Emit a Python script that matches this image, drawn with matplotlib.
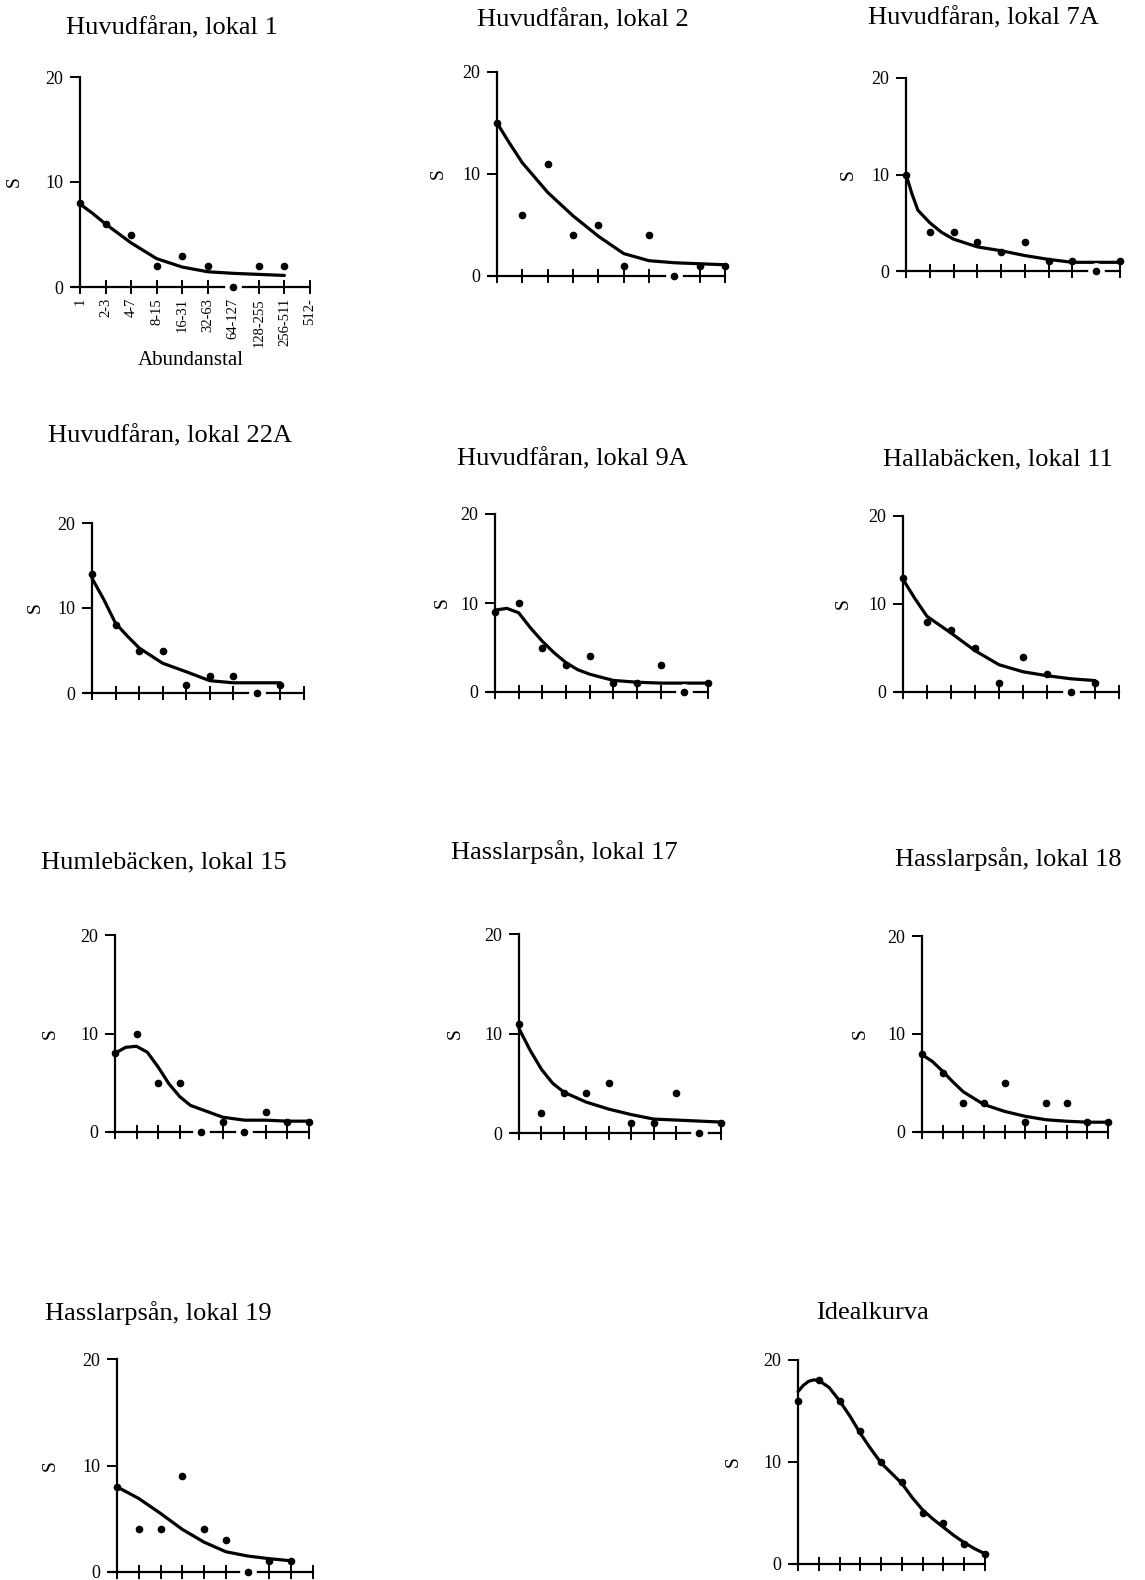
import matplotlib
matplotlib.use("Agg")
import matplotlib.pyplot as plt

plt.rcParams['font.family'] = ['Liberation Serif', 'DejaVu Serif']

W, H = 1145, 1580

# abundance classes on the x axis (only labelled on the first panel)
classes = ["1", "2-3", "4-7", "8-15", "16-31", "32-63", "64-127",
           "128-255", "256-511", "512-"]

titles = ["Huvudfåran, lokal 1", "Huvudfåran, lokal 2", "Huvudfåran, lokal 7A",
          "Huvudfåran, lokal 22A", "Huvudfåran, lokal 9A", "Hallabäcken, lokal 11",
          "Humlebäcken, lokal 15", "Hasslarpsån, lokal 17", "Hasslarpsån, lokal 18",
          "Hasslarpsån, lokal 19", "Idealkurva"]

# number of species (S) per abundance class
pts_l1 = [8, 6, 5, 2, 3, 2, 0, 2, 2]
pts_l2 = [15, 6, 11, 4, 5, 1, 4, 0, 1, 1]
pts_l7a = [10, 4, 4, 3, 2, 3, 1, 1, 0, 1]
pts_l22a = [14, 8, 5, 5, 1, 2, 2, 0, 1]
pts_l9a = [9, 10, 5, 3, 4, 1, 1, 3, 0, 1]
pts_l11 = [13, 8, 7, 5, 1, 4, 2, 0, 1]
pts_l15 = [8, 10, 5, 5, 0, 1, 0, 2, 1, 1]
pts_l17 = [11, 2, 4, 4, 5, 1, 1, 4, 0, 1]
pts_l18 = [8, 6, 3, 3, 5, 1, 3, 3, 1, 1]
pts_l19 = [8, 4, 4, 9, 4, 3, 0, 1, 1]
pts_ideal = [16, 18, 16, 13, 10, 8, 5, 4, 2, 1]

# fitted curves, read at class positions
cx_l1 = [0, 0.5, 1, 2, 3, 4, 5, 6, 7, 8]
cy_l1 = [7.9, 7.0, 6.0, 4.2, 2.7, 1.9, 1.45, 1.3, 1.2, 1.1]
cx_l2 = [0, 0.5, 1, 2, 3, 4, 5, 6, 7, 8, 9]
cy_l2 = [15, 13.0, 11.1, 8.2, 5.9, 3.9, 2.2, 1.5, 1.3, 1.2, 1.1]
cx_l7a = [0, 0.25, 0.5, 1, 1.5, 2, 3, 4, 5, 6, 7, 8, 9]
cy_l7a = [10, 8.0, 6.3, 5.0, 4.0, 3.3, 2.5, 2.1, 1.6, 1.2, 0.9, 0.9, 0.9]
cx_l22a = [0, 0.5, 1, 1.5, 2, 2.5, 3, 4, 5, 6, 7, 8]
cy_l22a = [13.5, 11.0, 8.2, 6.7, 5.3, 4.4, 3.5, 2.5, 1.45, 1.2, 1.2, 1.2]
cx_l9a = [0, 0.5, 1, 1.5, 2, 2.5, 3, 3.5, 4, 5, 6, 7, 8, 9]
cy_l9a = [9.2, 9.4, 8.9, 7.2, 5.7, 4.4, 3.3, 2.5, 2.0, 1.3, 1.1, 1.0, 1.0, 1.0]
cx_l11 = [0, 0.5, 1, 2, 3, 4, 5, 6, 7, 8]
cy_l11 = [12.8, 10.6, 8.6, 6.7, 4.7, 3.1, 2.3, 1.85, 1.5, 1.3]
cx_l15 = [0, 0.5, 1, 1.5, 2, 2.5, 3, 3.5, 4, 5, 6, 7, 8, 9]
cy_l15 = [8.0, 8.6, 8.7, 8.1, 6.6, 4.9, 3.6, 2.7, 2.3, 1.5, 1.2, 1.2, 1.1, 1.1]
cx_l17 = [0, 0.5, 1, 1.5, 2, 3, 4, 5, 6, 7, 8, 9]
cy_l17 = [10.5, 8.3, 6.4, 5.0, 4.1, 3.1, 2.4, 1.85, 1.4, 1.3, 1.2, 1.1]
cx_l18 = [0, 0.5, 1, 1.5, 2, 3, 4, 5, 6, 7, 8, 9]
cy_l18 = [7.9, 7.2, 6.2, 5.1, 4.1, 2.8, 2.1, 1.6, 1.25, 1.1, 1.0, 1.0]
cx_l19 = [0, 1, 2, 3, 4, 5, 6, 7, 8]
cy_l19 = [8.0, 6.9, 5.5, 4.0, 2.8, 1.9, 1.5, 1.25, 1.05]
cx_ideal = [0, 0.25, 0.5, 0.75, 1, 1.5, 2, 2.5, 3, 3.5, 4, 4.5, 5, 5.5, 6, 6.5, 7,
            7.5, 8, 8.5, 9]
cy_ideal = [16.9, 17.5, 17.9, 18.05, 18.0, 17.3, 16.0, 14.5, 12.8, 11.3, 9.9, 8.9,
            7.9, 6.5, 5.3, 4.4, 3.6, 2.8, 2.1, 1.5, 1.0]

points = [pts_l1, pts_l2, pts_l7a, pts_l22a, pts_l9a, pts_l11,
          pts_l15, pts_l17, pts_l18, pts_l19, pts_ideal]
curves = [(cx_l1, cy_l1), (cx_l2, cy_l2), (cx_l7a, cy_l7a), (cx_l22a, cy_l22a),
          (cx_l9a, cy_l9a), (cx_l11, cy_l11), (cx_l15, cy_l15), (cx_l17, cy_l17),
          (cx_l18, cy_l18), (cx_l19, cy_l19), (cx_ideal, cy_ideal)]

# panel frames in pixels: x of first class, x of last class, y of 0, y of 20
boxes = [(80, 310, 287, 77), (497, 725, 276, 72), (906, 1120, 271, 78),
         (92, 304, 693, 523), (495, 708, 692, 514), (903, 1119, 692, 516),
         (115, 309, 1132, 935), (519, 721, 1133, 934), (922, 1108, 1132, 936),
         (117, 313, 1572, 1359), (798, 985, 1564, 1360)]
title_xy = [(172, 28), (583, 20), (983, 18), (170, 436), (572, 459), (998, 459),
            (164, 862), (564, 852), (1008, 859), (158, 1313), (872, 1313)]
s_x = [14, 438, 848, 35, 442, 843, 50, 455, 860, 50, 733]

EXT = 0.3


def add_panel(fig, box, title, txy, sx, pts, curve, labels=False):
    x0, x9, y0, y20 = box
    dx = (x9 - x0) / 9.0
    left = x0 - EXT * dx
    ax = fig.add_axes([left / W, 1 - y0 / H, (x9 - left) / W, (y0 - y20) / H])
    ax.set_xlim(-EXT, 9)
    ax.set_ylim(0, 20)
    for s in ("top", "right"):
        ax.spines[s].set_visible(False)
    ax.spines["left"].set_position(("data", 0))
    ax.spines["left"].set_linewidth(1.6)
    ax.spines["bottom"].set_linewidth(1.6)
    ax.set_yticks([0, 10, 20])
    ax.set_xticks(range(10))
    ax.tick_params(axis="y", direction="out", length=7, width=1.4, pad=5, labelsize=13)
    ax.tick_params(axis="x", direction="inout", length=10, width=1.4)
    if labels:
        ax.set_xticklabels(classes, rotation=90, fontsize=10.5)
        ax.tick_params(axis="x", pad=3)
        ax.set_xlabel("Abundanstal", fontsize=15, labelpad=3)
    else:
        ax.set_xticklabels([])

    ax.plot(curve[0], curve[1], color="black", lw=2.3, solid_joinstyle="round",
            solid_capstyle="round", clip_on=False, zorder=3)
    xs = list(range(len(pts)))
    zx = [x for x, v in zip(xs, pts) if v == 0]
    if zx:
        # white gap in the axis around dots lying on zero
        ax.plot(zx, [0] * len(zx), "o", color="white", ms=11, clip_on=False, zorder=4)
    ax.plot(xs, pts, "o", color="black", ms=4.5, clip_on=False, zorder=5)

    fig.text(txy[0] / W, 1 - txy[1] / H, title, ha="center", va="center", fontsize=19)
    fig.text(sx / W, 1 - (y0 + y20) / 2 / H, "S", rotation=90, ha="center",
             va="center", fontsize=14)
    return ax


def main():
    fig = plt.figure(figsize=(W / 100, H / 100), dpi=100)
    for i in range(len(titles)):
        add_panel(fig, boxes[i], titles[i], title_xy[i], s_x[i], points[i],
                  curves[i], labels=(i == 0))
    fig.savefig("out.png", dpi=100, facecolor="white")


if __name__ == "__main__":
    main()
